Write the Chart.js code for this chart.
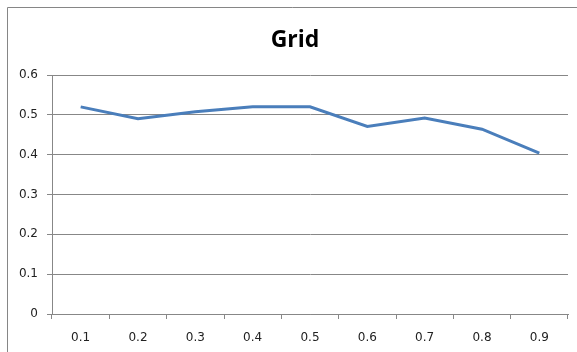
<!DOCTYPE html>
<html>
<head>
<meta charset="utf-8">
<script src="https://cdn.jsdelivr.net/npm/chart.js@4/dist/chart.umd.min.js"></script>
<style>
  html, body { margin: 0; padding: 0; background: #ffffff; }
  #wrap { position: relative; width: 577px; height: 352px; }
  canvas { display: block; }
</style>
</head>
<body>
<div id="wrap"><canvas id="c" width="577" height="352"></canvas></div>
<script>
// Grid series: measured value at each parameter step
const categories = ['0.1', '0.2', '0.3', '0.4', '0.5', '0.6', '0.7', '0.8', '0.9'];
const gridValues = [0.520, 0.490, 0.508, 0.520, 0.520, 0.471, 0.492, 0.464, 0.404];
const chartTitle = 'Grid';
const yMin = 0, yMax = 0.6, yStep = 0.1;

// Frame and title drawn on the canvas
const framePlugin = {
  id: 'frame',
  beforeDraw(chart) {
    const ctx = chart.ctx;
    ctx.save();
    ctx.fillStyle = '#ffffff';
    ctx.fillRect(0, 0, chart.width, chart.height);
    ctx.strokeStyle = '#868686';
    ctx.lineWidth = 1;
    ctx.beginPath();
    ctx.moveTo(7.5, chart.height);
    ctx.lineTo(7.5, 7.5);
    ctx.lineTo(chart.width, 7.5);
    ctx.stroke();
    ctx.restore();
  },
  afterDraw(chart) {
    const ctx = chart.ctx;
    ctx.save();
    ctx.fillStyle = '#000000';
    ctx.font = 'bold 23px "Open Sans", sans-serif';
    ctx.textAlign = 'center';
    ctx.textBaseline = 'alphabetic';
    ctx.fillText(chartTitle, 295, 47);
    ctx.restore();
  }
};

const axisColor = '#878787';
const tickFont = { family: '"DejaVu Sans", sans-serif', size: 12 };

new Chart(document.getElementById('c'), {
  type: 'line',
  data: {
    labels: categories,
    datasets: [{
      label: chartTitle,
      data: gridValues,
      borderColor: '#4a7ebb',
      backgroundColor: '#4a7ebb',
      borderWidth: 3,
      pointRadius: 0,
      tension: 0,
      fill: false
    }]
  },
  options: {
    responsive: false,
    animation: false,
    layout: { padding: { left: 7, right: 9, top: 75, bottom: 6 } },
    plugins: {
      legend: { display: false },
      title: { display: false },
      tooltip: { enabled: false }
    },
    scales: {
      x: {
        offset: true,
        grid: {
          offset: true,
          drawOnChartArea: false,
          drawTicks: true,
          tickLength: 5,
          color: axisColor,
          lineWidth: 1
        },
        border: { display: true, color: axisColor, width: 1 },
        ticks: { color: '#222222', font: tickFont, padding: 12, maxRotation: 0 },
        afterFit(scale) { scale.height = 32; }
      },
      y: {
        min: yMin,
        max: yMax,
        grid: {
          color: axisColor,
          lineWidth: 1,
          tickLength: 5,
          drawTicks: true
        },
        border: { display: true, color: axisColor, width: 1 },
        ticks: {
          stepSize: yStep,
          color: '#222222',
          font: tickFont,
          padding: 9,
          callback: (v) => (Math.round(v * 10) / 10).toString()
        },
        afterFit(scale) { scale.width = 45; }
      }
    }
  },
  plugins: [framePlugin]
});
</script>
</body>
</html>
